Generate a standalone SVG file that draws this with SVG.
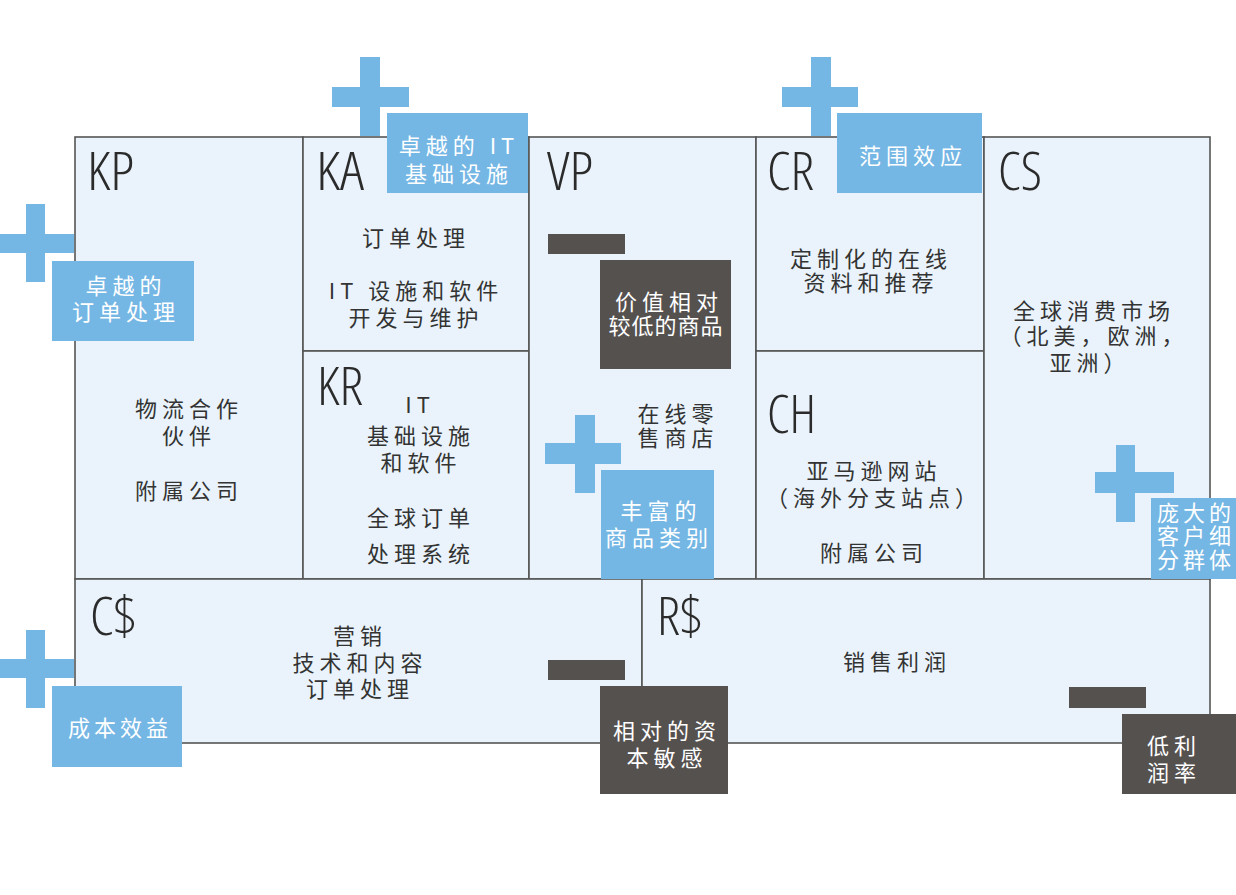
<svg xmlns="http://www.w3.org/2000/svg" width="1236" height="895" viewBox="0 0 1236 895">
<style>
.cell { fill: #EAF3FB; stroke: #555; stroke-width: 1.6; }
.hd { font-family: "Open Sans", "Liberation Sans", sans-serif; font-weight: 300; font-size: 53px; fill: #2b2b2b; font-stretch: condensed; }
.t { font-family: "Noto Sans CJK SC", sans-serif; font-size: 22px; fill: #333; letter-spacing: 5px; text-anchor: middle; }
.w { fill: #fff; }
.lb { fill: #74B6E4; }
.dk { fill: #55514F; }
.plus { fill: #74B6E4; }
.minus { fill: #55514F; }
</style>
<rect width="1236" height="895" fill="#fff"/>

<g id="connectors"></g>

<g id="KP">
  <rect class="cell" x="75" y="137" width="228" height="442"/>
  <text class="hd" x="87" y="190" textLength="47" lengthAdjust="spacingAndGlyphs">KP</text>
  <text class="t" x="189" y="417">物流合作</text>
  <text class="t" x="189" y="444">伙伴</text>
  <text class="t" x="189" y="499">附属公司</text>
</g>

<g id="KA">
  <rect class="cell" x="303" y="137" width="226" height="214"/>
  <text class="hd" x="316" y="190" textLength="48" lengthAdjust="spacingAndGlyphs">KA</text>
  <text class="t" x="416" y="246">订单处理</text>
  <text class="t" x="416" y="299">IT 设施和软件</text>
  <text class="t" x="416" y="326">开发与维护</text>
</g>

<g id="KR">
  <rect class="cell" x="303" y="351" width="226" height="228"/>
  <text class="hd" x="317" y="405" textLength="46" lengthAdjust="spacingAndGlyphs">KR</text>
  <text class="t" x="420" y="413">IT</text>
  <text class="t" x="421" y="444">基础设施</text>
  <text class="t" x="421" y="471">和软件</text>
  <text class="t" x="421" y="526">全球订单</text>
  <text class="t" x="421" y="562">处理系统</text>
</g>

<g id="VP">
  <rect class="cell" x="529" y="137" width="227" height="442"/>
  <text class="hd" x="547" y="190" textLength="46" lengthAdjust="spacingAndGlyphs">VP</text>
  <text class="t" x="678" y="422">在线零</text>
  <text class="t" x="678" y="446">售商店</text>
</g>

<g id="CR">
  <rect class="cell" x="756" y="137" width="228" height="214"/>
  <text class="hd" x="767" y="190" textLength="47" lengthAdjust="spacingAndGlyphs">CR</text>
  <text class="t" x="871" y="267">定制化的在线</text>
  <text class="t" x="871" y="291">资料和推荐</text>
</g>

<g id="CH">
  <rect class="cell" x="756" y="351" width="228" height="228"/>
  <text class="hd" x="767" y="433" textLength="49" lengthAdjust="spacingAndGlyphs">CH</text>
  <text class="t" x="874" y="479">亚马逊网站</text>
  <text class="t" x="874" y="506">（海外分支站点）</text>
  <text class="t" x="874" y="561">附属公司</text>
</g>

<g id="CS">
  <rect class="cell" x="984" y="137" width="226" height="442"/>
  <text class="hd" x="998" y="190" textLength="44" lengthAdjust="spacingAndGlyphs">CS</text>
  <text class="t" x="1094" y="319">全球消费市场</text>
  <text class="t" x="1094" y="344">（北美，欧洲，</text>
  <text class="t" x="1090" y="371">亚洲）</text>
</g>

<g id="CC">
  <rect class="cell" x="75" y="579" width="567" height="164"/>
  <text class="hd" x="90" y="635" textLength="46" lengthAdjust="spacingAndGlyphs">C$</text>
  <text class="t" x="360" y="644">营销</text>
  <text class="t" x="360" y="671">技术和内容</text>
  <text class="t" x="360" y="697">订单处理</text>
</g>

<g id="RS">
  <rect class="cell" x="642" y="579" width="568" height="164"/>
  <text class="hd" x="657" y="635" textLength="45" lengthAdjust="spacingAndGlyphs">R$</text>
  <text class="t" x="897" y="670">销售利润</text>
</g>

<g id="plus-KA">
  <rect class="plus" x="360" y="57" width="20" height="79"/>
  <rect class="plus" x="332" y="87" width="77" height="20"/>
</g>
<g id="label-KA">
  <rect class="lb" x="387" y="113" width="141" height="80"/>
  <text class="t w" x="459" y="154">卓越的 IT</text>
  <text class="t w" x="459" y="182">基础设施</text>
</g>

<g id="plus-CR">
  <rect class="plus" x="811" y="57" width="20" height="79"/>
  <rect class="plus" x="782" y="87" width="76" height="20"/>
</g>
<g id="label-CR">
  <rect class="lb" x="837" y="113" width="145" height="80"/>
  <text class="t w" x="913" y="164">范围效应</text>
</g>

<g id="plus-KP">
  <rect class="plus" x="26" y="204" width="19" height="78"/>
  <rect class="plus" x="0" y="234" width="74" height="19"/>
</g>
<g id="label-KP">
  <rect class="lb" x="52" y="261" width="142" height="80"/>
  <text class="t w" x="126" y="294">卓越的</text>
  <text class="t w" x="126" y="320">订单处理</text>
</g>

<g id="minus-VP">
  <rect class="minus" x="548" y="234" width="77" height="20"/>
</g>
<g id="label-VP-minus">
  <rect class="dk" x="600" y="260" width="131" height="109"/>
  <text class="t w" x="669" y="310">价值相对</text>
  <text class="t w" x="666" y="334" style="letter-spacing:1px">较低的商品</text>
</g>

<g id="plus-VP">
  <rect class="plus" x="575" y="415" width="20" height="78"/>
  <rect class="plus" x="545" y="443" width="76" height="21"/>
</g>
<g id="label-VP-plus">
  <rect class="lb" x="601" y="470" width="113" height="109"/>
  <text class="t w" x="661" y="519">丰富的</text>
  <text class="t w" x="659" y="546">商品类别</text>
</g>

<g id="plus-CS">
  <rect class="plus" x="1116" y="445" width="19" height="77"/>
  <rect class="plus" x="1095" y="472" width="79" height="21"/>
</g>
<g id="label-CS">
  <rect class="lb" x="1151" y="498" width="85" height="81"/>
  <text class="t w" x="1196" y="521" style="letter-spacing:4px">庞大的</text>
  <text class="t w" x="1196" y="544" style="letter-spacing:4px">客户细</text>
  <text class="t w" x="1196" y="568" style="letter-spacing:4px">分群体</text>
</g>

<g id="plus-CC">
  <rect class="plus" x="26" y="630" width="19" height="78"/>
  <rect class="plus" x="0" y="659" width="74" height="19"/>
</g>
<g id="label-CC">
  <rect class="lb" x="52" y="686" width="130" height="81"/>
  <text class="t w" x="120" y="736" style="letter-spacing:4px">成本效益</text>
</g>

<g id="minus-CC">
  <rect class="minus" x="548" y="660" width="77" height="20"/>
</g>
<g id="label-CC-minus">
  <rect class="dk" x="600" y="686" width="128" height="108"/>
  <text class="t w" x="667" y="739">相对的资</text>
  <text class="t w" x="667" y="766">本敏感</text>
</g>

<g id="minus-RS">
  <rect class="minus" x="1069" y="687" width="77" height="21"/>
</g>
<g id="label-RS">
  <rect class="dk" x="1122" y="714" width="114" height="80"/>
  <text class="t w" x="1174" y="754">低利</text>
  <text class="t w" x="1174" y="781">润率</text>
</g>
</svg>
